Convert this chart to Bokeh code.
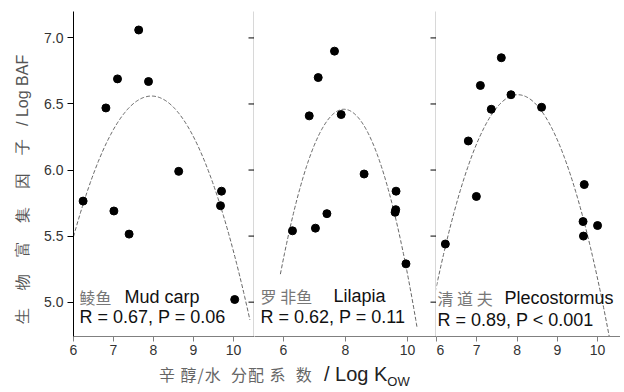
import numpy as np
from bokeh.plotting import figure
from bokeh.layouts import row, column
from bokeh.models import Range1d, LinearAxis, FixedTicker, Label, Div, PrintfTickFormatter
from bokeh.embed import file_html
from bokeh.resources import INLINE

# ---- data ----
carp_x = [6.24, 7.01, 7.39, 6.81, 7.10, 7.63, 7.875, 8.63, 9.70, 9.675, 10.03]
carp_y = [5.765, 5.69, 5.515, 6.47, 6.69, 7.06, 6.67, 5.99, 5.84, 5.73, 5.02]
tila_x = [6.29, 7.03, 7.40, 6.83, 7.12, 7.645, 7.86, 8.60, 9.63, 9.60, 9.62, 9.95]
tila_y = [5.54, 5.56, 5.67, 6.41, 6.70, 6.90, 6.42, 5.97, 5.84, 5.68, 5.70, 5.29]
pleco_x = [6.22, 6.79, 6.99, 7.09, 7.36, 7.61, 7.85, 8.61, 9.67, 9.64, 9.65, 10.0]
pleco_y = [5.44, 6.22, 5.80, 6.64, 6.46, 6.85, 6.57, 6.475, 5.89, 5.61, 5.50, 5.58]

# quadratic fits: y = top - k*(x - peak)^2, drawn over [x_from, x_to]
fit_peak = [7.95, 7.95, 8.02]
fit_top = [6.56, 6.46, 6.57]
fit_k = [0.28, 0.297, 0.355]
fit_from = [6.0, 5.9, 5.85]
fit_to = [10.41, 10.31, 10.45]

names_cn = ["鲮鱼", "罗 非鱼", "清 道 夫"]
names_en = ["Mud carp", "Lilapia", "Plecostormus"]
stats = ["R = 0.67, P = 0.06", "R = 0.62, P = 0.11", "R = 0.89, P < 0.001"]

y_ticks = [5.0, 5.5, 6.0, 6.5, 7.0]
x_ticks = [[6, 7, 8, 9, 10], [6, 8, 10], [6, 7, 8, 9, 10]]
x_ranges = [(6.0, 10.525), (5.065, 10.935), (6.0, 10.57)]

y_title_cn = ["生", "物", "富", "集", "因", "子"]
y_title_en = "/ Log BAF"

FONT = "Liberation Sans"
CJK = "Noto Sans CJK SC"

xs_all = [carp_x, tila_x, pleco_x]
ys_all = [carp_y, tila_y, pleco_y]
widths = [254, 182, 184]
cn_x = [6.15, 5.26, 6.025]
en_x = [7.275, 7.61, 7.69]
l1_y = [5.038, 5.045, 5.03]
l2_y = [4.886, 4.886, 4.864]

NB = "\u00a0"
y_title = (NB * 4).join(y_title_cn) + NB * 3 + y_title_en + NB * 7

figs = []
for i in range(3):
    p = figure(width=widths[i], height=364, output_backend="svg", toolbar_location=None,
               x_range=Range1d(*x_ranges[i]), y_range=Range1d(4.74, 7.2),
               min_border_top=11, min_border_bottom=28,
               min_border_left=73 if i == 0 else 0, min_border_right=0,
               y_axis_location=None)
    p.outline_line_color = None
    p.grid.visible = False
    p.background_fill_color = "white"
    p.border_fill_color = "white"

    # bottom axis
    xa = p.xaxis[0]
    xa.ticker = FixedTicker(ticks=x_ticks[i])
    xa.axis_line_color = "#808080"
    xa.major_tick_line_color = "#808080"
    xa.major_tick_in = 0
    xa.major_tick_out = 5
    xa.minor_tick_line_color = None
    xa.major_label_text_font = FONT
    xa.major_label_text_font_size = "14px"
    xa.major_label_text_color = "#333333"
    xa.major_label_standoff = 3

    if i == 0:
        ya = LinearAxis(ticker=FixedTicker(ticks=y_ticks),
                        formatter=PrintfTickFormatter(format="%.1f"))
        ya.axis_line_color = "black"
        ya.major_tick_line_color = "black"
        ya.major_tick_in = 0
        ya.major_tick_out = 6
        ya.minor_tick_line_color = None
        ya.major_label_text_font = FONT
        ya.major_label_text_font_size = "14px"
        ya.major_label_text_color = "#333333"
        ya.major_label_standoff = 4
        ya.axis_label = y_title
        ya.axis_label_text_font = FONT
        ya.axis_label_text_font_style = "normal"
        ya.axis_label_text_font_size = "16px"
        ya.axis_label_text_color = "#555555"
        ya.axis_label_standoff = 10
        p.add_layout(ya, "left")
    if i < 2:
        # divider line with inward ticks at the panel's right edge
        ra = LinearAxis(ticker=FixedTicker(ticks=[]))
        ra.axis_line_color = "black"
        ra.axis_line_width = 1.3
        ra.major_tick_line_color = None
        ra.minor_tick_line_color = None
        p.add_layout(ra, "right")
        edge = x_ranges[i][1]
        p.scatter([edge] * len(y_ticks), y_ticks, marker="dash", size=12,
                  line_color="black", line_width=1)

    # fitted curve
    cx = np.linspace(fit_from[i], fit_to[i], 200)
    cy = fit_top[i] - fit_k[i] * (cx - fit_peak[i]) ** 2
    p.line(cx, cy, line_color="#666666", line_width=1, line_dash="4 2")

    p.scatter(xs_all[i], ys_all[i], size=8, fill_color="black", line_color="black")

    p.add_layout(Label(x=cn_x[i], y=l1_y[i], text=names_cn[i], text_font=CJK,
                       text_font_size="16px", text_color="#777777", text_baseline="middle"))
    p.add_layout(Label(x=en_x[i], y=l1_y[i], text=names_en[i], text_font=FONT,
                       text_font_size="18px", text_color="#111111", text_baseline="middle"))
    p.add_layout(Label(x=cn_x[i], y=l2_y[i], text=stats[i], text_font=FONT,
                       text_font_size="18px", text_color="#111111", text_baseline="middle"))
    figs.append(p)

div = Div(text='<span style="font-family:\'Noto Sans CJK SC\';color:#666;font-size:16px;letter-spacing:1px">'
               '辛&nbsp;醇/水&nbsp;&nbsp;分配&nbsp;系&nbsp;&nbsp;数</span>'
               '<span style="font-family:\'Liberation Sans\';color:#222;font-size:20px">&nbsp;&nbsp;/ Log K'
               '<sub style="font-size:13px">OW</sub></span>',
          width=620, height=26, margin=0,
          styles={"padding-left": "159px", "padding-top": "0px",
                  "line-height": "20px", "white-space": "nowrap"})

layout = column(row(*figs, spacing=0), div, spacing=0)
open("out.html", "w").write(file_html(layout, INLINE))
